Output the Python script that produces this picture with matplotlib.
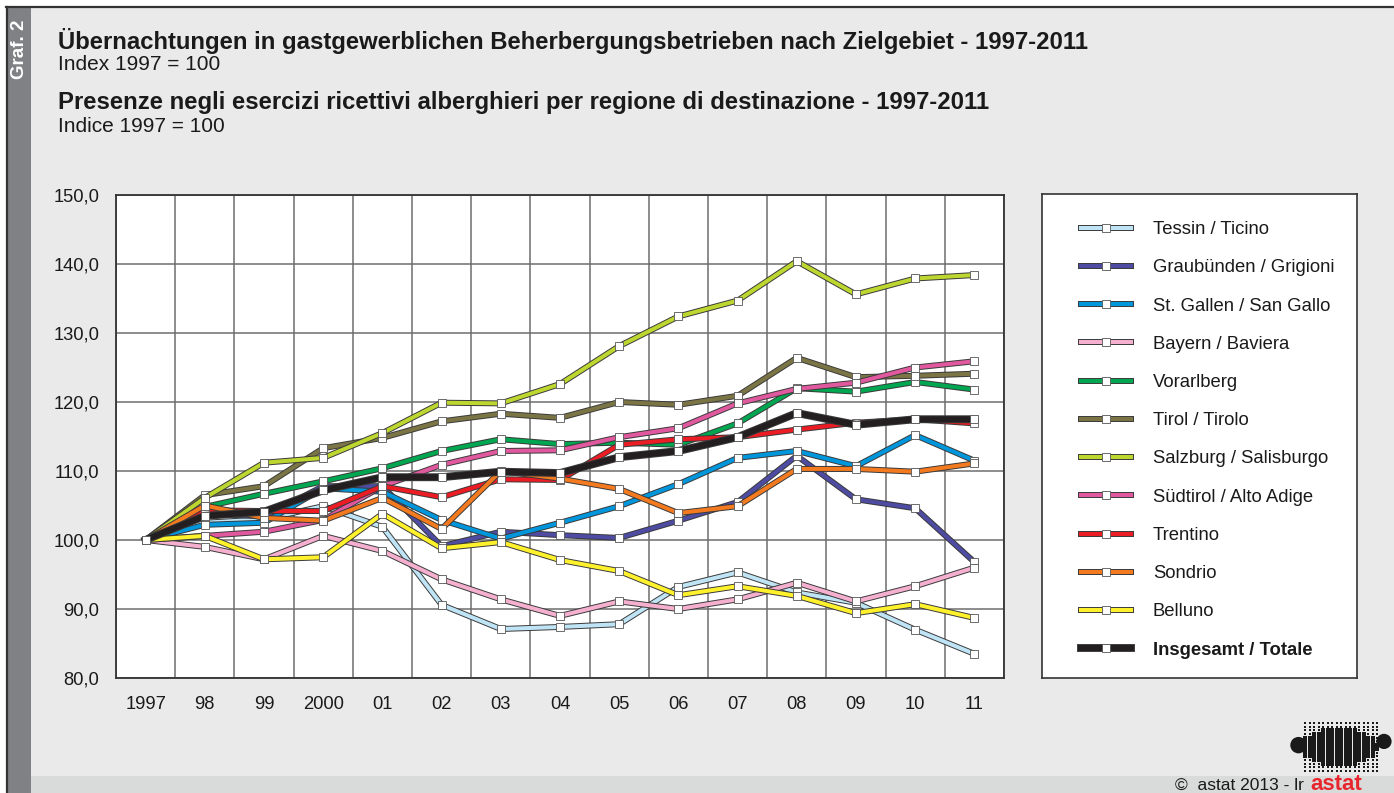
import numpy as np
import matplotlib.pyplot as plt
from matplotlib.patches import Rectangle
from matplotlib.lines import Line2D
from matplotlib.legend_handler import HandlerTuple

plt.rcParams['font.family'] = ['Liberation Sans', 'DejaVu Sans']

years = ['1997', '98', '99', '2000', '01', '02', '03', '04', '05', '06', '07', '08', '09', '10', '11']

tessin = [100, 102.5, 103.0, 104.9, 101.9, 90.6, 87.1, 87.4, 87.8, 93.2, 95.3, 92.4, 90.9, 87.0, 83.5]
graubuenden = [100, 103.9, 103.4, 107.8, 107.8, 99.1, 101.2, 100.7, 100.3, 102.8, 105.5, 112.2, 105.9, 104.6, 96.8]
st_gallen = [100, 102.2, 102.5, 107.5, 107.0, 102.9, 100.2, 102.5, 104.9, 108.1, 111.9, 112.9, 110.7, 115.2, 111.5]
bayern = [100, 99.0, 97.2, 100.6, 98.4, 94.3, 91.4, 89.0, 91.1, 90.0, 91.4, 93.8, 91.1, 93.3, 96.0]
vorarlberg = [100, 104.8, 106.7, 108.5, 110.4, 112.9, 114.6, 113.9, 114.1, 113.8, 116.9, 122.0, 121.5, 122.9, 121.8]
tirol = [100, 106.5, 107.8, 113.3, 114.8, 117.2, 118.3, 117.7, 120.0, 119.6, 120.9, 126.4, 123.6, 123.8, 124.1]
salzburg = [100, 106.1, 111.2, 111.9, 115.5, 119.9, 119.8, 122.6, 128.1, 132.4, 134.7, 140.4, 135.6, 137.9, 138.4]
suedtirol = [100, 100.6, 101.2, 102.9, 107.8, 110.9, 112.9, 113.0, 114.9, 116.2, 119.8, 121.9, 122.8, 125.0, 125.9]
trentino = [100, 104.3, 104.2, 104.2, 107.8, 106.2, 108.8, 108.7, 113.8, 114.6, 114.9, 116.0, 117.0, 117.5, 116.9]
sondrio = [100, 105.0, 103.2, 102.8, 106.1, 101.6, 110.0, 108.9, 107.4, 103.9, 104.9, 110.3, 110.3, 109.9, 111.1]
belluno = [100, 100.6, 97.2, 97.5, 103.8, 98.8, 99.7, 97.1, 95.5, 92.0, 93.3, 91.9, 89.4, 90.7, 88.7]
totale = [100, 103.5, 104.1, 107.2, 109.1, 109.1, 109.9, 109.7, 112.0, 112.9, 114.9, 118.4, 116.7, 117.5, 117.5]

labels = ['Tessin / Ticino', 'Graubünden / Grigioni', 'St. Gallen / San Gallo', 'Bayern / Baviera',
          'Vorarlberg', 'Tirol / Tirolo', 'Salzburg / Salisburgo', 'Südtirol / Alto Adige',
          'Trentino', 'Sondrio', 'Belluno', 'Insgesamt / Totale']
series = [tessin, graubuenden, st_gallen, bayern, vorarlberg, tirol, salzburg, suedtirol,
          trentino, sondrio, belluno, totale]
colors = ['#BFE4F6', '#4E4BA2', '#0096DB', '#F5AFCF', '#00A650', '#7B7545', '#BED630',
          '#E0599F', '#EC1C24', '#F47A20', '#FFF22D', '#231F20']

W, H = 1394, 793
fig = plt.figure(figsize=(W / 100, H / 100), dpi=100)
fig.patch.set_facecolor('white')

def fx(px):
    return px / W

def fy(py):
    return 1 - py / H

# background panels
fig.add_artist(Rectangle((fx(6), 0), 1, fy(7), transform=fig.transFigure,
                         facecolor='#E9EAE9', edgecolor='none', zorder=0))
fig.add_artist(Rectangle((fx(31), 0), 1, fy(776), transform=fig.transFigure,
                         facecolor='#D9DADA', edgecolor='none', zorder=0))
fig.add_artist(Rectangle((fx(6), 0), fx(25), fy(7), transform=fig.transFigure,
                         facecolor='#808184', edgecolor='none', zorder=0))
fig.add_artist(Line2D([fx(6), 1], [fy(7), fy(7)], transform=fig.transFigure,
                      color='#333333', lw=1.6))
fig.add_artist(Line2D([fx(6.5), fx(6.5)], [0, fy(7)], transform=fig.transFigure,
                      color='#333333', lw=1.6))

fig.text(fx(19), fy(49), 'Graf. 2', rotation=90, color='white', fontsize=13.5,
         fontweight='bold', ha='center', va='center')

fig.text(fx(58), fy(41), 'Übernachtungen in gastgewerblichen Beherbergungsbetrieben nach Zielgebiet - 1997-2011',
         fontsize=17.2, fontweight='bold', ha='left', va='center', color='#1a1a1a')
fig.text(fx(58), fy(64), 'Index 1997 = 100', fontsize=15, ha='left', va='center', color='#1a1a1a')
fig.text(fx(58), fy(103), 'Presenze negli esercizi ricettivi alberghieri per regione di destinazione - 1997-2011',
         fontsize=17.2, fontweight='bold', ha='left', va='center', color='#1a1a1a')
fig.text(fx(58), fy(126), 'Indice 1997 = 100', fontsize=15, ha='left', va='center', color='#1a1a1a')

# main chart
ax = fig.add_axes([fx(116), fy(678), fx(1004 - 116), (678 - 195) / H])
ax.set_facecolor('white')
x = np.arange(len(years))

handles = []
for i, (vals, col, lab) in enumerate(zip(series, colors, labels)):
    lw = 4.3 if lab.startswith('Insgesamt') else 2.9
    z = 3 + i * 0.01
    # dark outline under the coloured line
    edge, = ax.plot(x, vals, color='#3a3a3a', lw=lw + 1.4, solid_joinstyle='miter', zorder=z)
    line, = ax.plot(x, vals, color=col, lw=lw, marker='s', markersize=5.2,
                    markerfacecolor='white', markeredgecolor='#555555', markeredgewidth=0.6,
                    solid_joinstyle='miter', zorder=z + 0.005)
    handles.append((edge, line))

ax.set_xlim(-0.5, len(years) - 0.5)
ax.set_ylim(80, 150)
ax.set_xticks(x)
ax.set_xticklabels(years)
ax.set_yticks(np.arange(80, 151, 10))
ax.set_yticklabels([f'{v:.1f}'.replace('.', ',') for v in np.arange(80, 151, 10)])
ax.set_xticks(np.arange(-0.5, len(years), 1), minor=True)
ax.grid(False)
ax.grid(True, which='minor', axis='x', color='#6d6d6d', lw=1.1, zorder=1)
ax.grid(True, which='major', axis='y', color='#6d6d6d', lw=1.1, zorder=1)
ax.tick_params(which='both', length=0, labelsize=13.2, colors='#1a1a1a')
ax.tick_params(axis='x', pad=13)
ax.tick_params(axis='y', pad=12)
for s in ax.spines.values():
    s.set_color('#333333')
    s.set_linewidth(1.3)

# legend box
lax = fig.add_axes([fx(1042), fy(678), fx(1357 - 1042), (678 - 194) / H])
lax.set_xticks([])
lax.set_yticks([])
lax.set_facecolor('white')
for s in lax.spines.values():
    s.set_color('#333333')
    s.set_linewidth(1.2)
leg = lax.legend(handles, labels, loc='center left', bbox_to_anchor=(0.1, 0.492), frameon=False,
                 fontsize=13.3, labelspacing=1.15, handlelength=2.7, handletextpad=1.2,
                 borderaxespad=0, handler_map={tuple: HandlerTuple(ndivide=1, pad=0)})
for t in leg.get_texts():
    t.set_color('#1a1a1a')
leg.get_texts()[-1].set_fontweight('bold')

# footer
fig.text(fx(1304), fy(785), '©  astat 2013 - lr', fontsize=12.5, ha='right', va='center', color='#1a1a1a')
fig.text(fx(1336), fy(790), 'astat', fontsize=16, fontweight='bold', ha='center', va='baseline',
         color='#E8262D')

# logo dots
lg = fig.add_axes([fx(1285), fy(773), fx(108), 52 / H])
lg.set_axis_off()
gx, gy = np.meshgrid(np.arange(0, 24), np.arange(0, 14))
gx = gx.ravel()
gy = gy.ravel()
cx, cy = 11.5, 6.5
r = ((gx - cx) / 10) ** 2 + ((gy - cy) / 6) ** 2
keep = (gx >= 4) & (gx <= 20)
size = np.where(r < 0.75, 8, 2.2)
lg.scatter(gx[keep], gy[keep], s=size[keep], color='#1a1a1a', marker='s', linewidths=0)
lg.scatter([2.5, 21.5], [7, 8], s=[140, 120], color='#1a1a1a', marker='o', linewidths=0)
lg.set_xlim(-0.5, 23.5)
lg.set_ylim(-0.5, 13.5)

fig.savefig('out.png', dpi=100, facecolor=fig.get_facecolor())
